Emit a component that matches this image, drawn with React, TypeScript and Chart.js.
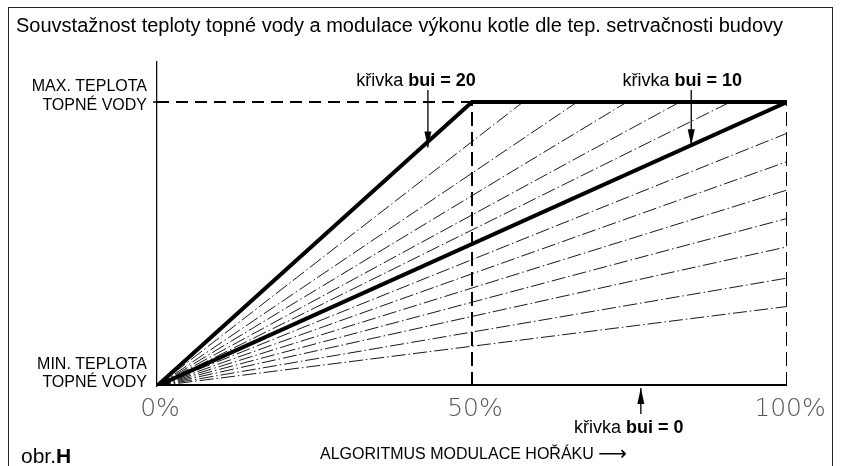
import React, { useEffect, useRef } from "react";
import { Chart, registerables } from "chart.js";

Chart.register(...registerables);

// ---- data (x in % of burner modulation, y normalised: 0 = min water temp, 1 = max water temp)
const xTicks = [0, 50, 100];
const xTickLabels = ["0%", "50%", "100%"];
const yTicks = [0, 1];
const yTickLabels = [["MIN. TEPLOTA", "TOPNÉ VODY"], ["MAX. TEPLOTA", "TOPNÉ VODY"]];

const bui20X = [0, 50, 100];
const bui20Y = [0, 1, 1];
const bui10X = [0, 100];
const bui10Y = [0, 1];
const bui0X = [0, 100];
const bui0Y = [0, 0];

// intermediate curves between bui 20 and bui 10 (end on max temperature)
const upperFanEndX = [58.1, 66.7, 74.6, 83.0, 91.0];
// intermediate curves between bui 10 and bui 0 (end at 100 %)
const lowerFanEndY = [0.89, 0.79, 0.69, 0.59, 0.49, 0.38, 0.28];

const maxRefX = [0, 50];
const vertRefX = [50, 100];

const labelBui20 = { x: 43, y: 0.84, text: "bui = 20" };
const labelBui10 = { x: 84.8, y: 0.848, text: "bui = 10" };
const labelBui0 = { x: 76.8, y: 0, text: "bui = 0" };

const titleText = "Souvstažnost teploty topné vody a modulace výkonu kotle dle tep. setrvačnosti budovy";
const xAxisText = "ALGORITMUS MODULACE HOŘÁKU";
const xAxisArrow = "⟶";

const pts = (xs: number[], ys: number[]) => xs.map((x, i) => ({ x, y: ys[i] }));

const SANS = "'Liberation Sans', Arial, sans-serif";

const overlay = {
  id: "overlay",
  beforeDraw(chart: any) {
    const ctx = chart.ctx;
    ctx.save();
    ctx.fillStyle = "#fff";
    ctx.fillRect(0, 0, chart.width, chart.height);
    ctx.strokeStyle = "#222";
    ctx.lineWidth = 1;
    ctx.strokeRect(8.5, 7.5, 824, 480);
    ctx.restore();
  },
  afterDraw(chart: any) {
    const ctx = chart.ctx;
    const xs = chart.scales.x;
    const ys = chart.scales.y;
    ctx.save();
    ctx.fillStyle = "#000";
    // title
    ctx.font = "20px " + SANS;
    ctx.textAlign = "left";
    ctx.textBaseline = "middle";
    ctx.fillText(titleText, 16, 26);

    // y labels
    ctx.font = "16px " + SANS;
    ctx.textAlign = "right";
    const yOffsets = [[-21, -3], [-15, 4]];
    yTicks.forEach((v, i) => {
      const py = ys.getPixelForValue(v);
      const lines = yTickLabels[i];
      ctx.fillText(lines[0], xs.left - 10, py + yOffsets[i][0]);
      ctx.fillText(lines[1], xs.left - 10, py + yOffsets[i][1]);
    });
    // small tick at max
    ctx.strokeStyle = "#000";
    ctx.lineWidth = 1.5;
    ctx.beginPath();
    ctx.moveTo(xs.left - 4, ys.getPixelForValue(1));
    ctx.lineTo(xs.left, ys.getPixelForValue(1));
    ctx.stroke();

    // x tick labels
    ctx.font = "200 25px 'DejaVu Sans', sans-serif";
    ctx.fillStyle = "#555";
    ctx.textAlign = "center";
    xTicks.forEach((v, i) => {
      ctx.fillText(xTickLabels[i], xs.getPixelForValue(v) + 3, ys.bottom + 23);
    });

    // annotations
    const arrow = (x1: number, y1: number, x2: number, y2: number) => {
      ctx.strokeStyle = "#000";
      ctx.fillStyle = "#000";
      ctx.lineWidth = 1.3;
      ctx.beginPath();
      ctx.moveTo(x1, y1);
      ctx.lineTo(x2, y2);
      ctx.stroke();
      const dir = Math.sign(y2 - y1);
      ctx.beginPath();
      ctx.moveTo(x2, y2);
      ctx.lineTo(x2 - 3.5, y2 - dir * 16);
      ctx.lineTo(x2 + 3.5, y2 - dir * 16);
      ctx.closePath();
      ctx.fill();
    };
    const label = (cx: number, cy: number, bold: string) => {
      ctx.fillStyle = "#000";
      ctx.textBaseline = "middle";
      ctx.font = "18px " + SANS;
      const a = "křivka ";
      const wa = ctx.measureText(a).width;
      ctx.font = "bold 18px " + SANS;
      const wb = ctx.measureText(bold).width;
      const left = cx - (wa + wb) / 2;
      ctx.textAlign = "left";
      ctx.font = "18px " + SANS;
      ctx.fillText(a, left, cy);
      ctx.font = "bold 18px " + SANS;
      ctx.fillText(bold, left + wa, cy);
    };
    {
      const px = xs.getPixelForValue(labelBui20.x);
      const py = ys.getPixelForValue(labelBui20.y);
      arrow(px, 90, px, py);
      label(px - 12, 81, labelBui20.text);
    }
    {
      const px = xs.getPixelForValue(labelBui10.x);
      const py = ys.getPixelForValue(labelBui10.y);
      arrow(px, 90, px, py);
      label(px - 9, 81, labelBui10.text);
    }
    {
      const px = xs.getPixelForValue(labelBui0.x);
      const py = ys.getPixelForValue(labelBui0.y);
      arrow(px, 414, px, py + 2);
      label(px - 12, 428, labelBui0.text);
    }

    // bottom texts
    ctx.fillStyle = "#000";
    ctx.font = "16px " + SANS;
    ctx.textAlign = "left";
    ctx.fillText(xAxisText, 320, 455);
    const wt = ctx.measureText(xAxisText + " ").width;
    ctx.font = "20px 'DejaVu Sans', sans-serif";
    ctx.fillText(xAxisArrow, 320 + wt, 455);
    ctx.font = "21px " + SANS;
    ctx.fillText("obr.", 21, 457);
    const w = ctx.measureText("obr.").width;
    ctx.font = "bold 21px " + SANS;
    ctx.fillText("H", 21 + w, 457);
    ctx.restore();
  },
};

export default function App() {
  const ref = useRef<HTMLCanvasElement>(null);
  useEffect(() => {
    if (!ref.current) return;
    const dashDot = [14, 3, 1.5, 3];
    const thick = { borderColor: "#000", borderWidth: 4, pointRadius: 0, fill: false, tension: 0, borderCapStyle: "round" as const, borderJoinStyle: "miter" as const };
    const thin = { borderColor: "#000", borderWidth: 0.9, pointRadius: 0, fill: false, tension: 0, borderDash: dashDot };
    const datasets: any[] = [];
    upperFanEndX.forEach((ex, i) => datasets.push({ ...thin, label: "u" + i, data: pts([0, ex], [0, 1]) }));
    lowerFanEndY.forEach((ey, i) => datasets.push({ ...thin, label: "l" + i, data: pts([0, 100], [0, ey]) }));
    datasets.push({ label: "ref max", data: pts(maxRefX, [1, 1]), borderColor: "#000", borderWidth: 2, borderDash: [12, 7], pointRadius: 0 });
    vertRefX.forEach((vx, i) =>
      datasets.push({ label: "ref v" + i, data: pts([vx, vx], [0, 1]), borderColor: "#000", borderWidth: 2, borderDash: [14, 6], pointRadius: 0 })
    );
    datasets.push({ ...thick, label: "bui 20", data: pts(bui20X, bui20Y) });
    datasets.push({ ...thick, label: "bui 10", data: pts(bui10X, bui10Y) });
    datasets.push({ ...thick, label: "bui 0", data: pts(bui0X, bui0Y) });

    const chart = new Chart(ref.current, {
      type: "line",
      data: { datasets },
      plugins: [overlay],
      options: {
        animation: false,
        responsive: false,
        layout: { padding: { left: 157, right: 57, top: 62, bottom: 80 } },
        plugins: { legend: { display: false }, title: { display: false }, tooltip: { enabled: false } },
        scales: {
          x: { type: "linear", min: 0, max: 100, display: false },
          y: {
            type: "linear",
            min: 0,
            max: 1.141,
            display: true,
            grid: { display: false, drawTicks: false },
            ticks: { display: false },
            border: { display: true, color: "#111", width: 1.3 },
          },
        },
      },
    });
    return () => chart.destroy();
  }, []);
  return (
    <div style={{ position: "absolute", left: 0, top: 0, width: 844, height: 466 }}>
      <canvas ref={ref} width={844} height={466} style={{ width: 844, height: 466, display: "block" }} />
    </div>
  );
}
